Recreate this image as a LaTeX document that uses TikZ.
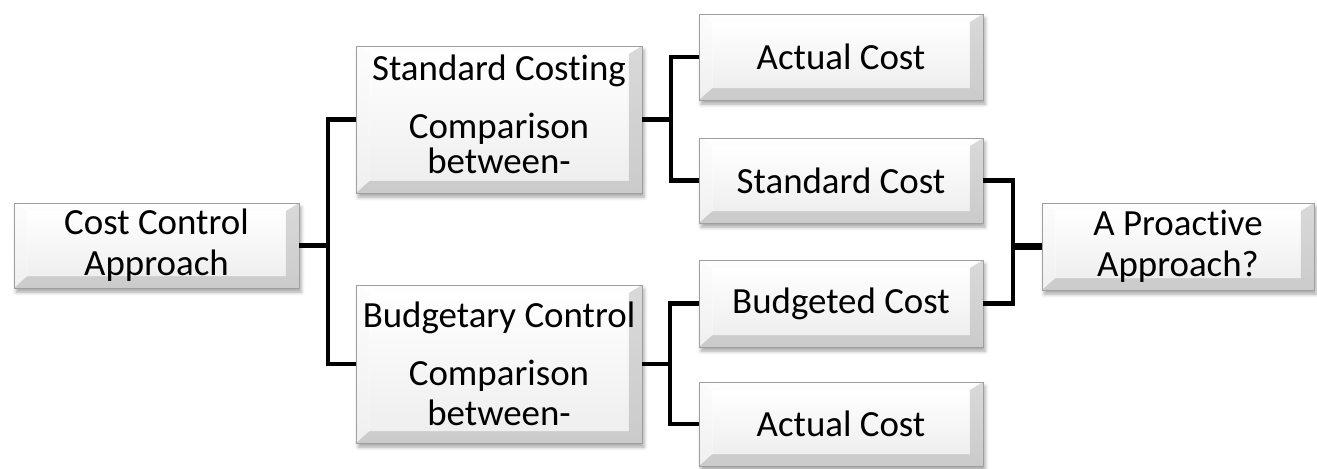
\documentclass[tikz,border=0pt]{standalone}
\usepackage{fontspec}
\setmainfont{Carlito}[Ligatures=NoCommon]
\usetikzlibrary{calc,shadows.blur}
\tikzset{
  bevelbox/.style={
    rectangle, draw=gray!75, line width=0.5pt, inner sep=0pt, align=center,
    font=\fontsize{21pt}{23.2pt}\selectfont,
    top color=gray!4, bottom color=gray!24,
    blur shadow={shadow xshift=1.2pt, shadow yshift=-2.4pt, shadow opacity=35, shadow blur radius=2pt},
    path picture={
      \coordinate (bl) at (path picture bounding box.south west);
      \coordinate (tr) at (path picture bounding box.north east);
      \coordinate (tl) at (bl|-tr); \coordinate (br) at (tr|-bl);
      \coordinate (ibl) at ($(bl)+(0.27cm,0.24cm)$);
      \coordinate (itr) at ($(tr)+(-0.26cm,-0.16cm)$);
      \coordinate (itl) at (ibl|-itr); \coordinate (ibr) at (itr|-ibl);
      \shade[top color=white, bottom color=gray!13] (ibl) rectangle (itr);
      \fill[white, opacity=.85] (tl) -- (tr) -- (itr) -- (itl) -- cycle;
      \fill[white, opacity=.5] (bl) -- (tl) -- (itl) -- (ibl) -- cycle;
      \fill[gray!60, opacity=.45] (br) -- (tr) -- (itr) -- (ibr) -- cycle;
      \fill[gray!60, opacity=.45] (bl) -- (br) -- (ibr) -- (ibl) -- cycle;
    }
  },
  conn/.style={line width=2.5pt, black}
}
\begin{document}
\begin{tikzpicture}[x=0.02cm, y=-0.02cm]
\useasboundingbox (0,0) rectangle (1317,468);
\node[bevelbox, minimum width=5.7cm, minimum height=1.7cm] (cc) at (156.5,245.5) {Cost Control\\Approach};
\node[bevelbox, minimum width=5.72cm, minimum height=2.94cm] (sc) at (499,119.5) {Standard Costing\\[10pt]Comparison\\[-3.5pt]between-\rule[-6pt]{0pt}{0pt}};
\node[bevelbox, minimum width=5.72cm, minimum height=3.16cm] (bc) at (499,364) {Budgetary Control\\[9.7pt]Comparison\\between-};
\node[bevelbox, minimum width=5.68cm, minimum height=1.72cm] (ac1) at (841,57) {Actual Cost};
\node[bevelbox, minimum width=5.68cm, minimum height=1.7cm] (st) at (841,180.5) {Standard Cost};
\node[bevelbox, minimum width=5.68cm, minimum height=1.74cm] (bu) at (841,303.5) {Budgeted Cost};
\node[bevelbox, minimum width=5.68cm, minimum height=1.68cm] (ac2) at (841,424) {Actual Cost};
\node[bevelbox, minimum width=5.44cm, minimum height=1.74cm] (pa) at (1178,246.5) {A Proactive\\Approach?};

\coordinate (j1) at (328,245);
\coordinate (j2) at (671,119);
\coordinate (j3) at (670,364);
\coordinate (j4) at (1013,246.5);

\draw[conn] (cc.east) -- (cc.east -| j1);
\draw[conn] (sc.west) -| (j1) |- (bc.west);
\draw[conn] (sc.east) -- (sc.east -| j2);
\draw[conn] (ac1.west) -| (j2) |- (st.west);
\draw[conn] (bc.east) -- (bc.east -| j3);
\draw[conn] (bu.west) -| (j3) |- (ac2.west);
\draw[conn] (st.east) -| ([yshift=0.035cm]j4) -- ([yshift=0.035cm]pa.west);
\draw[conn] (bu.east) -| ([yshift=-0.035cm]j4) -- ([yshift=-0.035cm]pa.west);
\end{tikzpicture}
\end{document}
